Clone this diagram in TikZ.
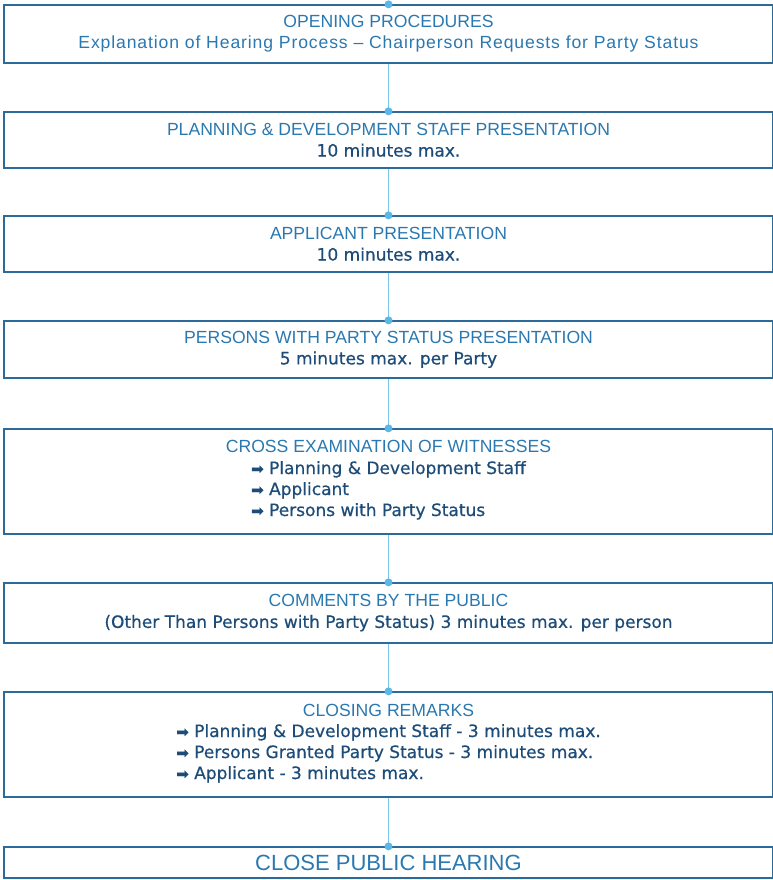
\documentclass[tikz,border=0pt]{standalone}
\usepackage{fontspec}
\setmainfont{Liberation Sans}
\newfontfamily\detailfont[FakeBold=0.6]{DejaVu Sans}
\usepackage{xcolor}
\definecolor{colTitle}{HTML}{2A78B0}
\definecolor{colDetail}{HTML}{1D4C78}
\definecolor{colBorder}{HTML}{2B6A99}
\definecolor{colLink}{HTML}{7AC5EA}
\definecolor{colDot}{HTML}{5AB7E6}
\usetikzlibrary{positioning}
\tikzset{
	stagebox/.style={draw=colBorder, line width=1.3pt, minimum width=769pt, minimum height=#1, align=center, inner sep=0pt, text=colTitle, font=\fontsize{17.6}{21}\selectfont},
	stagelink/.style={draw=colLink, line width=1pt},
	stagedot/.style={circle, fill=colDot, inner sep=0pt, minimum size=8pt},
}
\newcommand{\detail}[1]{{\detailfont\fontsize{17}{21}\selectfont\color{colDetail}#1}}
\newcommand{\bul}{{\fontsize{15}{21}\selectfont\symbol{"27A1}}}

\begin{document}
\begin{tikzpicture}[x=1pt, y=-1pt]
	\useasboundingbox (0,0) rectangle (773,880);

	% Hearing stages, top to bottom
	\node[stagebox=58pt] (open) at (388.5,34) {OPENING PROCEDURES\\{\addfontfeature{LetterSpace=5}Explanation of Hearing Process -- Chairperson Requests for Party Status}};
	\node[stagebox=56pt] (staff) at (388.5,140) {PLANNING \& DEVELOPMENT STAFF PRESENTATION\\\detail{10 minutes max.}};
	\node[stagebox=56pt] (appl) at (388.5,244) {APPLICANT PRESENTATION\\\detail{10 minutes max.}};
	\node[stagebox=57pt] (party) at (388.5,349.5) {PERSONS WITH PARTY STATUS PRESENTATION\\\detail{5 minutes max. per Party}};
	\node[stagebox=105pt] (cross) at (388.5,481.5) {CROSS EXAMINATION OF WITNESSES\\\detail{\begin{tabular}[t]{@{}l@{}}
		\bul\ Planning \& Development Staff\\
		\bul\ Applicant\\
		\bul\ Persons with Party Status
	\end{tabular}}};
	\node[stagebox=60pt] (public) at (388.5,613) {COMMENTS BY THE PUBLIC\\\detail{(Other Than Persons with Party Status) 3 minutes max. per person}};
	\node[stagebox=105pt] (closing) at (388.5,744.5) {CLOSING REMARKS\\\detail{\begin{tabular}[t]{@{}l@{}}
		\bul\ Planning \& Development Staff - 3 minutes max.\\
		\bul\ Persons Granted Party Status - 3 minutes max.\\
		\bul\ Applicant - 3 minutes max.
	\end{tabular}}};
	\node[stagebox=31pt, font=\fontsize{22}{26}\selectfont] (close) at (388.5,862.5) {CLOSE PUBLIC HEARING};

	% Connectors with dots on the top edges
	\node[stagedot] at (open.north) {};
	\foreach \from/\to in {open/staff, staff/appl, appl/party, party/cross, cross/public, public/closing, closing/close} {
		\draw[stagelink] (\from.south) -- (\to.north);
		\node[stagedot] at (\to.north) {};
	}
\end{tikzpicture}
\end{document}
